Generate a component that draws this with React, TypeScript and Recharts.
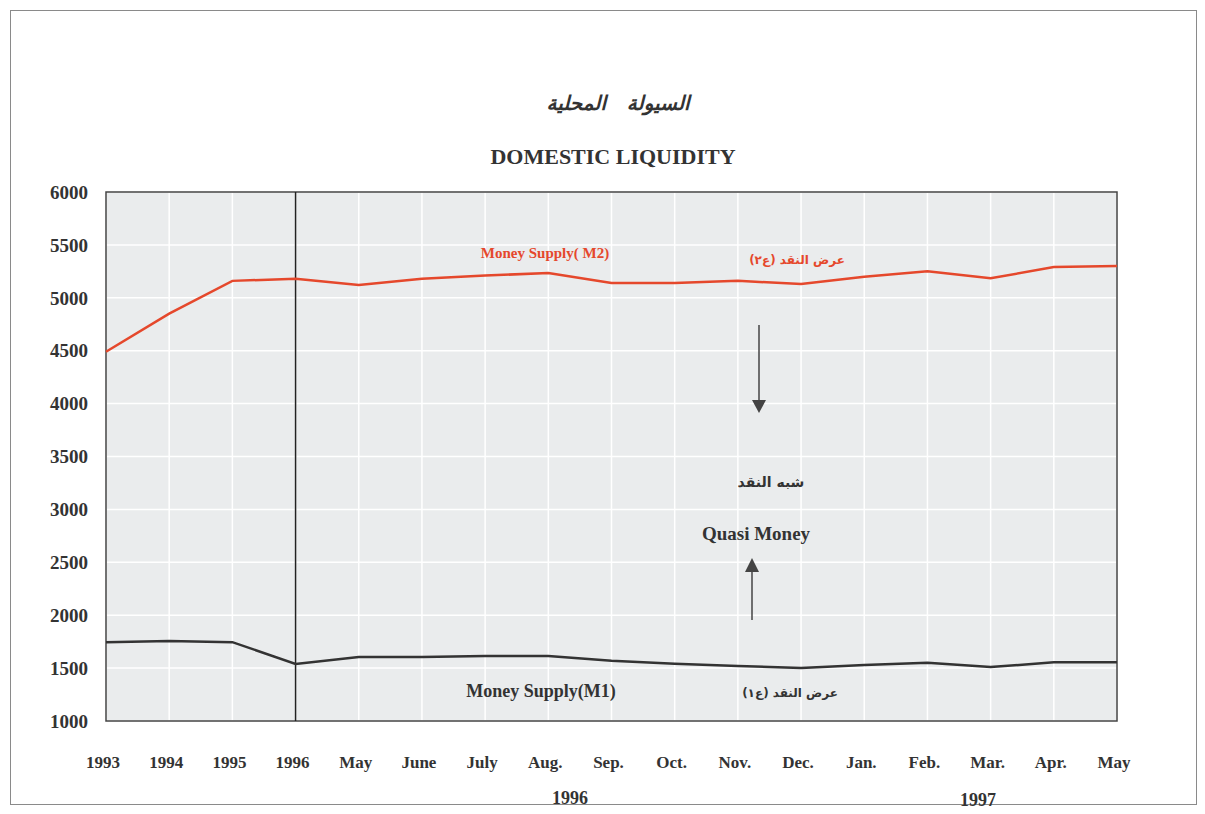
import React from "react";
import {
  LineChart,
  Line,
  XAxis,
  YAxis,
  CartesianGrid,
  ReferenceLine,
  ReferenceArea,
} from "recharts";

const periods = [
  "1993", "1994", "1995", "1996", "May-96", "Jun-96", "Jul-96", "Aug-96", "Sep-96",
  "Oct-96", "Nov-96", "Dec-96", "Jan-97", "Feb-97", "Mar-97", "Apr-97", "May-97",
];
const tickLabels = [
  "1993", "1994", "1995", "1996", "May", "June", "July", "Aug.", "Sep.",
  "Oct.", "Nov.", "Dec.", "Jan.", "Feb.", "Mar.", "Apr.", "May",
];
const m2 = [4490, 4850, 5160, 5180, 5120, 5180, 5210, 5235, 5140, 5140, 5160, 5130, 5200, 5250, 5185, 5290, 5300];
const m1 = [1745, 1755, 1745, 1540, 1605, 1605, 1615, 1615, 1570, 1540, 1520, 1500, 1530, 1550, 1510, 1555, 1555];
const yTicks = [1000, 1500, 2000, 2500, 3000, 3500, 4000, 4500, 5000, 5500, 6000];

const data = periods.map((p, i) => ({ period: p, m2: m2[i], m1: m1[i] }));

const SERIF = "'Liberation Serif', 'Times New Roman', serif";
const ARABIC = "'DejaVu Sans', sans-serif";
const RED = "#e5482c";
const DARK = "#333333";

const XTick = (props: any) => {
  const { x, y, index } = props;
  return (
    <text x={x - 3} y={y} dy={45} textAnchor="middle" fontFamily={SERIF} fontWeight="bold" fontSize={17} fill="#333">
      {tickLabels[index]}
    </text>
  );
};

const abs = (left: number, top: number, extra: React.CSSProperties = {}): React.CSSProperties => ({
  position: "absolute",
  left,
  top,
  transform: "translate(-50%, -50%)",
  whiteSpace: "nowrap",
  fontWeight: "bold",
  ...extra,
});

export default function App() {
  return (
    <div style={{ position: "relative", width: 1189, height: 798, background: "#fff" }}>
      <div
        style={{
          position: "absolute",
          left: 2,
          top: 2,
          width: 1187,
          height: 795,
          border: "1px solid #8a8a8a",
          boxSizing: "border-box",
        }}
      />
      <LineChart
        width={1189}
        height={798}
        data={data}
        margin={{ top: 184, right: 80, left: 0, bottom: 0 }}
        style={{ position: "absolute", left: 0, top: 0 }}
      >
        <CartesianGrid stroke="#ffffff" strokeWidth={1.5} fill="#eaeced" fillOpacity={1} />
        <XAxis
          dataKey="period"
          interval={0}
          axisLine={false}
          tickLine={false}
          tickSize={0}
          height={85}
          tick={<XTick />}
        />
        <YAxis
          type="number"
          domain={[1000, 6000]}
          ticks={yTicks}
          interval={0}
          width={98}
          axisLine={false}
          tickLine={false}
          tickSize={0}
          tickMargin={18}
          tick={{ fontFamily: SERIF, fontWeight: "bold", fontSize: 19, fill: "#333" }}
        />
        <ReferenceArea
          x1="1993"
          x2="May-97"
          y1={1000}
          y2={6000}
          fill="none"
          stroke="#444"
          strokeWidth={1.5}
        />
        <ReferenceLine x="1996" stroke="#222" strokeWidth={1.5} />
        <Line
          type="linear"
          dataKey="m2"
          stroke={RED}
          strokeWidth={2.5}
          dot={false}
          isAnimationActive={false}
        />
        <Line
          type="linear"
          dataKey="m1"
          stroke={DARK}
          strokeWidth={2.5}
          dot={false}
          isAnimationActive={false}
        />
      </LineChart>

      <svg width={1189} height={798} style={{ position: "absolute", left: 0, top: 0, pointerEvents: "none" }}>
        <line x1={751} y1={317} x2={751} y2={394} stroke="#444" strokeWidth={1.5} />
        <polygon points="744,392 758,392 751,405" fill="#444" />
        <line x1={744} y1={612} x2={744} y2={562} stroke="#444" strokeWidth={1.5} />
        <polygon points="737,564 751,564 744,550" fill="#444" />
      </svg>

      <div style={abs(610, 95, { fontFamily: ARABIC, fontSize: 20, fontStyle: "italic", color: "#333" })}>
        السيولة&nbsp;&nbsp;&nbsp;المحلية
      </div>
      <div style={abs(605, 149, { fontFamily: SERIF, fontSize: 22, color: "#333" })}>DOMESTIC LIQUIDITY</div>

      <div style={abs(537, 245, { fontFamily: SERIF, fontSize: 15, color: RED })}>Money Supply( M2)</div>
      <div style={abs(789, 252, { fontFamily: ARABIC, fontSize: 12, color: RED })}>عرض النقد (ع٢)</div>

      <div style={abs(763, 474, { fontFamily: ARABIC, fontSize: 14, color: "#333" })}>شبه النقد</div>
      <div style={abs(748, 526, { fontFamily: SERIF, fontSize: 19, color: "#333" })}>Quasi Money</div>

      <div style={abs(533, 683, { fontFamily: SERIF, fontSize: 18, color: "#333" })}>Money Supply(M1)</div>
      <div style={abs(782, 685, { fontFamily: ARABIC, fontSize: 12, color: "#333" })}>عرض النقد (ع١)</div>

      <div style={abs(562, 790, { fontFamily: SERIF, fontSize: 18, color: "#333" })}>1996</div>
      <div style={abs(970, 792, { fontFamily: SERIF, fontSize: 18, color: "#333" })}>1997</div>
    </div>
  );
}
